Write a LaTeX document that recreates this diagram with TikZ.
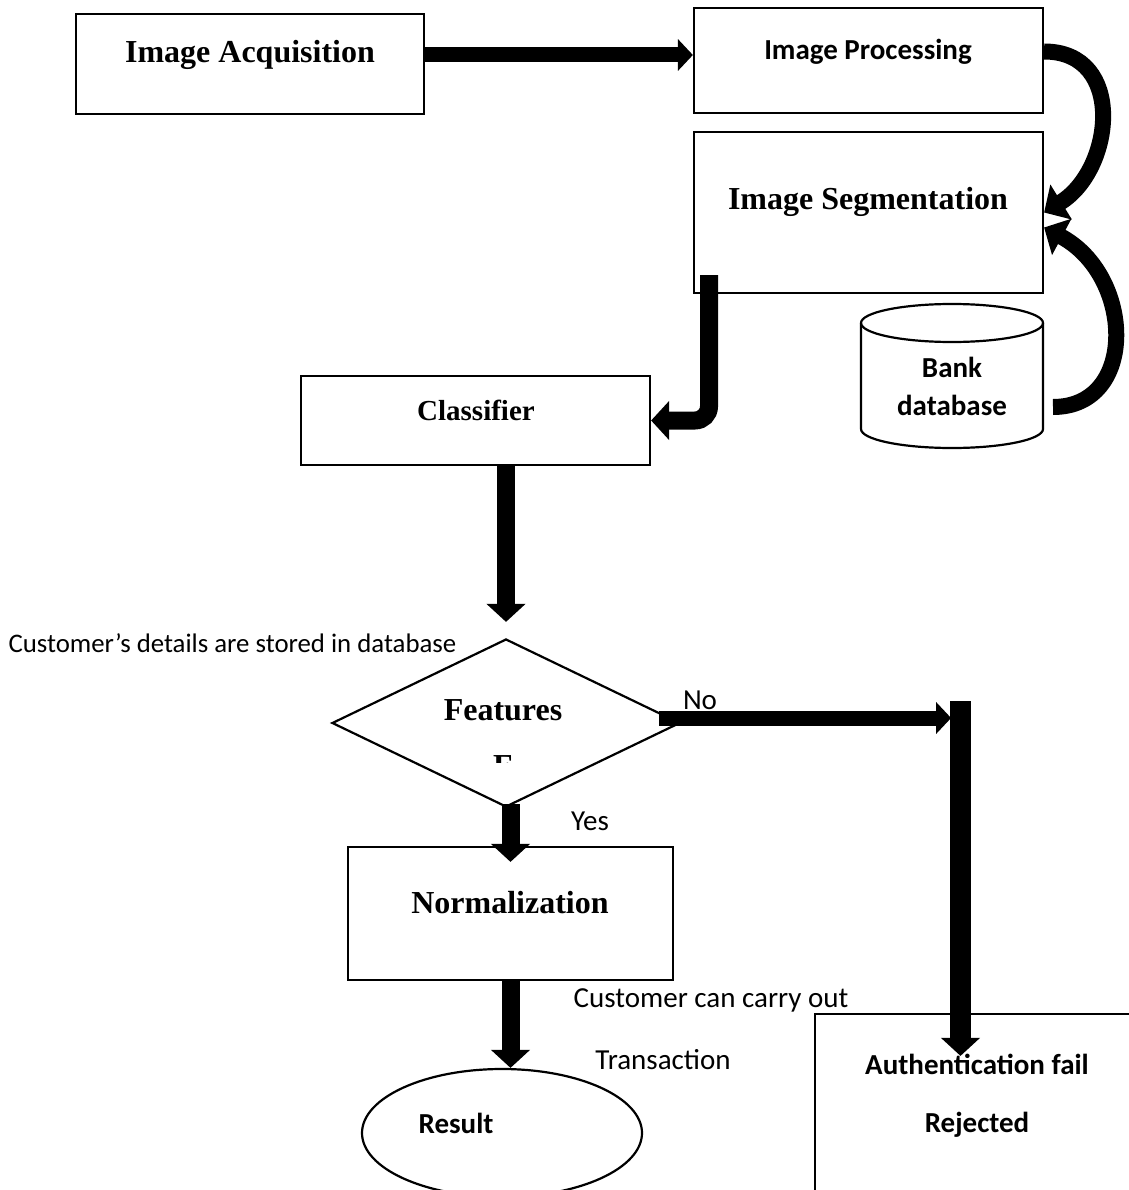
\documentclass[tikz,border=0pt]{standalone}
\usepackage{fontspec}
\setmainfont{Liberation Serif}
\setsansfont{Carlito}
\usetikzlibrary{arrows.meta,shapes.geometric}

\begin{document}
\begin{tikzpicture}[
    x=1pt, y=-1pt,
    block/.style={draw,line width=2.2pt,inner sep=0pt,fill=white},
    outline/.style={line width=2.2pt},
    heading/.style={font=\fontsize{32}{38}\selectfont\bfseries},
    tag/.style={font=\fontsize{29}{35}\selectfont\sffamily\bfseries},
    note/.style={font=\fontsize{29}{35}\selectfont\sffamily},
    flow/.style={line width=18pt,-{Triangle[width=38pt,length=18pt]}},
    flowthin/.style={line width=15pt,-{Triangle[width=31pt,length=15pt]}},
    bendflow/.style={line width=16pt,-{Triangle[width=40pt,length=20pt]}}
]
    \useasboundingbox (0,0) rectangle (1128,1190);

    % blocks
    \node[block,minimum width=348pt,minimum height=100pt] (acq)  at (250,64)    {};
    \node[block,minimum width=349pt,minimum height=105pt] (proc) at (868.5,60.5) {};
    \node[block,minimum width=349pt,minimum height=161pt] (seg)  at (868.5,212.5){};
    \node[block,minimum width=349pt,minimum height=89pt]  (cls)  at (475.5,420.5){};
    \node[diamond,block,aspect=2.07,minimum width=348pt,minimum height=168pt] (feat) at (506,723) {};
    \node[block,minimum width=325pt,minimum height=133pt] (norm) at (510.5,913.5){};
    \node[ellipse,block,minimum width=280pt,minimum height=128pt] (res) at (502,1133) {};
    \node[block,minimum width=324pt,minimum height=200pt] (auth) at (977,1114)  {};

    % database drum
    \draw[outline] (861,323) -- (861,429) arc[start angle=180,end angle=0,x radius=91,y radius=19] -- (1043,323);
    \draw[outline] (952,323) ellipse [x radius=91,y radius=19];

    % texts
    \node[heading] (acqtxt)  at (250,55)  {Image Acquisition};
    \node[tag]     (proctxt) at (868,52)  {Image Processing};
    \node[heading] (segtxt)  at (868,202) {Image Segmentation};
    \node[tag]     (bank1)   at (952,367) {Bank};
    \node[tag]     (bank2)   at (952,405) {database};
    \node[heading,font=\fontsize{29}{35}\selectfont\bfseries] (clstxt) at (476,410) {Classifier};
    \node[heading] (feattxt) at (503,710) {Features};
    \begin{scope}
        \clip (470,755) rectangle (540,762);
        \node[heading,anchor=north,inner sep=0pt] (featcut) at (503,755) {F};
    \end{scope}
    \node[heading] (normtxt) at (510,903) {Normalization};
    \node[tag]     (restxt)  at (456,1123) {Result};
    \node[tag]     (authtxt) at (977,1064) {Authentication fail};
    \node[tag]     (rejtxt)  at (977,1125) {Rejected};

    \node[note,font=\fontsize{26.8}{32}\selectfont\sffamily,anchor=west] (stored) at (5,643) {Customer’s details are stored in database};
    \node[note]             (no)     at (700,700) {No};
    \node[note]             (yes)    at (590,821) {Yes};
    \node[note]             (carry)  at (711,1000) {Customer can carry out};
    \node[note]             (trans)  at (663,1060) {Transaction};

    \coordinate (segout)  at (709,275);
    \coordinate (bankout) at (1053,407);
    \coordinate (nodrop)  at (960.5,701);

    % connectors
    \draw[flowthin] ([yshift=9pt]acq.east) -- ([yshift=9pt]acq.east -| proc.west);
    \draw[bendflow] ([yshift=9pt]proc.east) .. controls +(82,0) and +(70,-43) .. (seg.east);
    \draw[bendflow] (bankout) .. controls +(85,0) and +(90,48) .. ([yshift=-15pt]seg.east);
    \draw[flow,rounded corners=14pt] (segout) |- (cls.east);
    \draw[flow] (cls.south -| feat.north) -- ([yshift=16pt]feat.north);
    \draw[flow] ([yshift=4pt]feat.south -| norm.north) -- ([yshift=-16pt]norm.north);
    \draw[flowthin] ([xshift=-22pt,yshift=5pt]feat.east) -- ++(292,0);
    \draw[flow,line width=21pt] (nodrop) -- ([yshift=-43pt]auth.north -| nodrop);
    \draw[flow] (norm.south) -- (norm.south |- res.north);
\end{tikzpicture}
\end{document}
